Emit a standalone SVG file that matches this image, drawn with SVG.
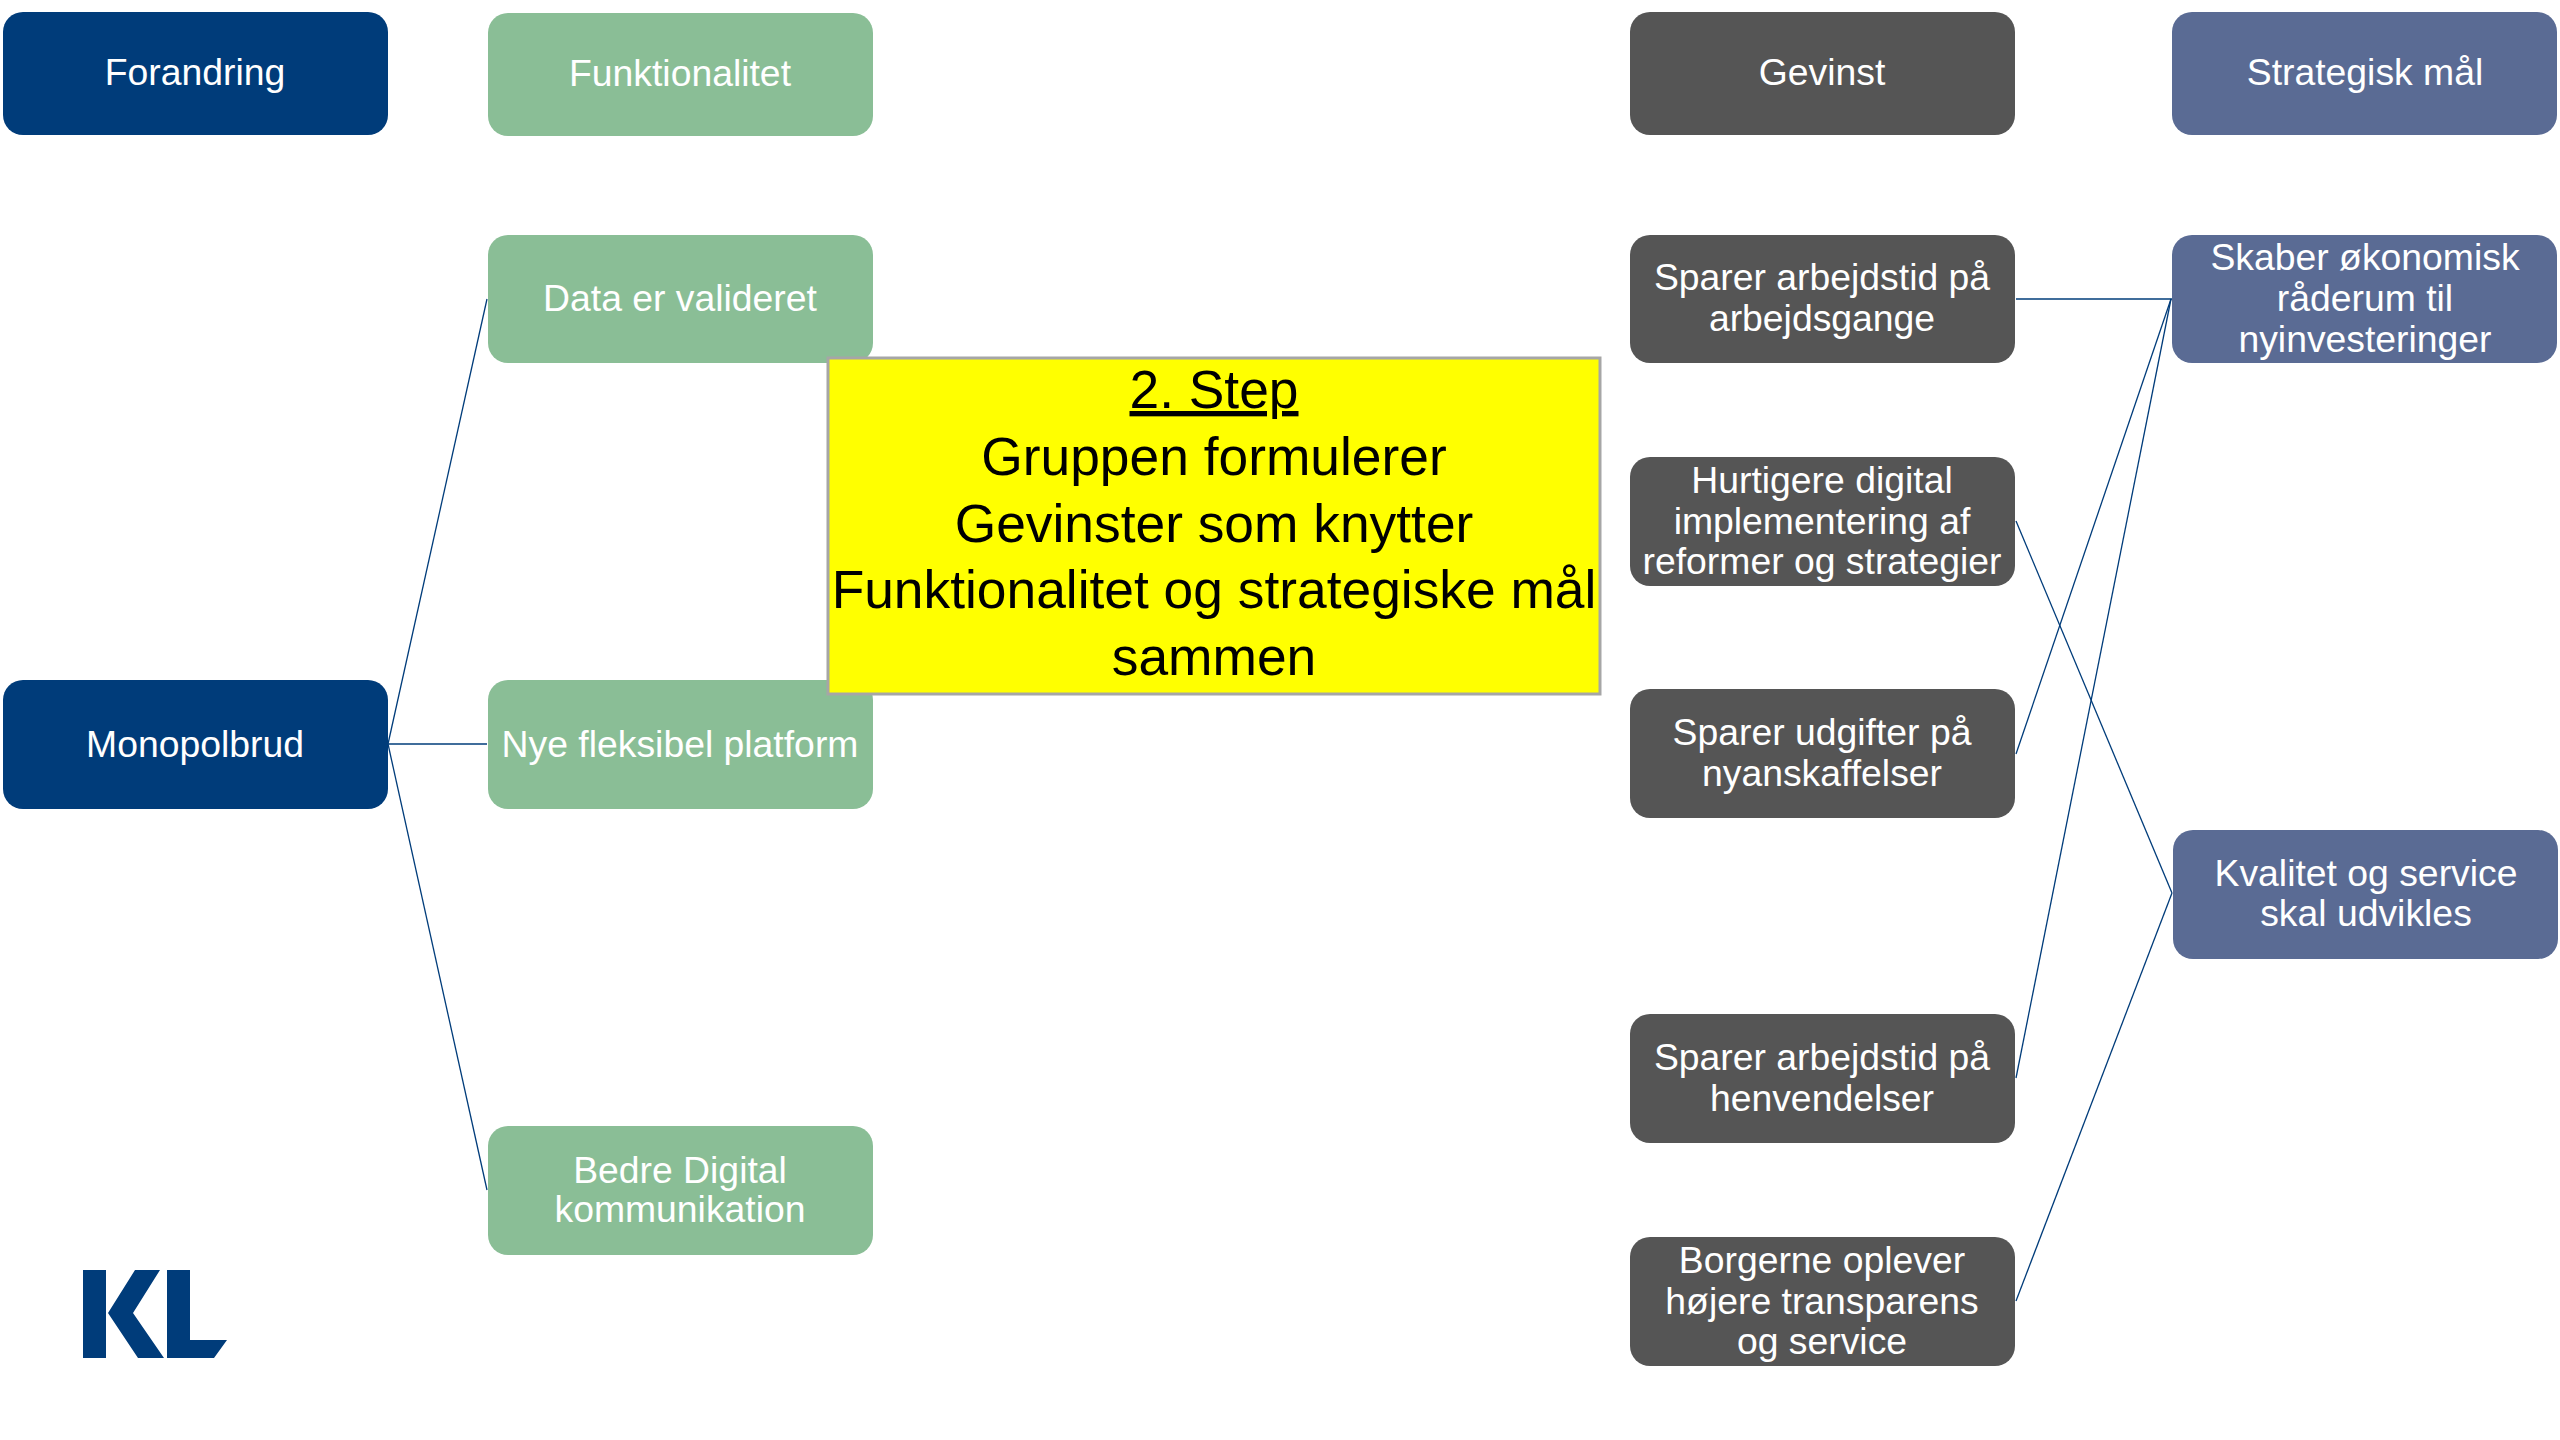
<svg xmlns="http://www.w3.org/2000/svg" width="2560" height="1440" viewBox="0 0 2560 1440">
<style>
text{font-family:"Liberation Sans",Arial,sans-serif;text-anchor:middle}
.t{font-size:37.33px;fill:#fff}
.y{font-size:53.33px;fill:#000}
.b{fill:#003c7a}.g{fill:#8abe96}.d{fill:#555555}.p{fill:#5a6b94}
.c{stroke:#003c7a;stroke-width:1.3;fill:none}
</style>
<rect width="2560" height="1440" fill="#fff"/>
<g id="connectors">
<line class="c" x1="388" y1="744" x2="487" y2="299"/>
<line class="c" x1="388" y1="744" x2="487" y2="744"/>
<line class="c" x1="388" y1="744" x2="487" y2="1190"/>
<line class="c" x1="2016" y1="299" x2="2172" y2="299"/>
<line class="c" x1="2016" y1="521" x2="2172" y2="893"/>
<line class="c" x1="2016" y1="754" x2="2171" y2="299"/>
<line class="c" x1="2016" y1="1078" x2="2171" y2="299"/>
<line class="c" x1="2016" y1="1301" x2="2172" y2="893"/>
</g>
<g id="n-forandring"><rect class="b" x="3" y="12" width="385" height="123" rx="20"/><text class="t" x="195" y="85">Forandring</text></g>
<g id="n-funktionalitet"><rect class="g" x="488" y="13" width="385" height="123" rx="20"/><text class="t" x="680" y="86">Funktionalitet</text></g>
<g id="n-gevinst"><rect class="d" x="1630" y="12" width="385" height="123" rx="20"/><text class="t" x="1822" y="85">Gevinst</text></g>
<g id="n-strategisk"><rect class="p" x="2172" y="12" width="385" height="123" rx="20"/><text class="t" x="2365" y="85">Strategisk mål</text></g>
<g id="n-data"><rect class="g" x="488" y="235" width="385" height="128" rx="20"/><text class="t" x="680" y="311">Data er valideret</text></g>
<g id="n-monopolbrud"><rect class="b" x="3" y="680" width="385" height="129" rx="20"/><text class="t" x="195" y="757">Monopolbrud</text></g>
<g id="n-platform"><rect class="g" x="488" y="680" width="385" height="129" rx="20"/><text class="t" x="680" y="757">Nye fleksibel platform</text></g>
<g id="n-bedre"><rect class="g" x="488" y="1126" width="385" height="129" rx="20"/><text class="t" x="680" y="1183">Bedre Digital</text><text class="t" x="680" y="1222">kommunikation</text></g>
<g id="n-g1"><rect class="d" x="1630" y="235" width="385" height="128" rx="20"/><text class="t" x="1822" y="290">Sparer arbejdstid på</text><text class="t" x="1822" y="331">arbejdsgange</text></g>
<g id="n-g2"><rect class="d" x="1630" y="457" width="385" height="129" rx="20"/><text class="t" x="1822" y="493">Hurtigere digital</text><text class="t" x="1822" y="534">implementering af</text><text class="t" x="1822" y="574">reformer og strategier</text></g>
<g id="n-g3"><rect class="d" x="1630" y="689" width="385" height="129" rx="20"/><text class="t" x="1822" y="745">Sparer udgifter på</text><text class="t" x="1822" y="786">nyanskaffelser</text></g>
<g id="n-g4"><rect class="d" x="1630" y="1014" width="385" height="129" rx="20"/><text class="t" x="1822" y="1070">Sparer arbejdstid på</text><text class="t" x="1822" y="1111">henvendelser</text></g>
<g id="n-g5"><rect class="d" x="1630" y="1237" width="385" height="129" rx="20"/><text class="t" x="1822" y="1273">Borgerne oplever</text><text class="t" x="1822" y="1314">højere transparens</text><text class="t" x="1822" y="1354">og service</text></g>
<g id="n-s1"><rect class="p" x="2172" y="235" width="385" height="128" rx="20"/><text class="t" x="2365" y="270">Skaber økonomisk</text><text class="t" x="2365" y="311">råderum til</text><text class="t" x="2365" y="352">nyinvesteringer</text></g>
<g id="n-s2"><rect class="p" x="2173" y="830" width="385" height="129" rx="20"/><text class="t" x="2366" y="886">Kvalitet og service</text><text class="t" x="2366" y="926">skal udvikles</text></g>
<g id="n-step"><rect x="828" y="358" width="772" height="336" fill="#ffff00" stroke="#a6a6a6" stroke-width="3"/>
<text class="y" x="1214" y="408" text-decoration="underline">2. Step</text>
<text class="y" x="1214" y="475">Gruppen formulerer</text>
<text class="y" x="1214" y="542">Gevinster som knytter</text>
<text class="y" x="1214" y="608">Funktionalitet og strategiske mål</text>
<text class="y" x="1214" y="675">sammen</text></g>
<g id="logo"><path class="b" d="M83 1270H106V1358H83Z"/><path class="b" d="M135 1270H160L133 1313L164 1358H138L108 1313Z"/><path class="b" d="M167 1270H190V1340H227L214 1358H167Z"/></g>
</svg>
